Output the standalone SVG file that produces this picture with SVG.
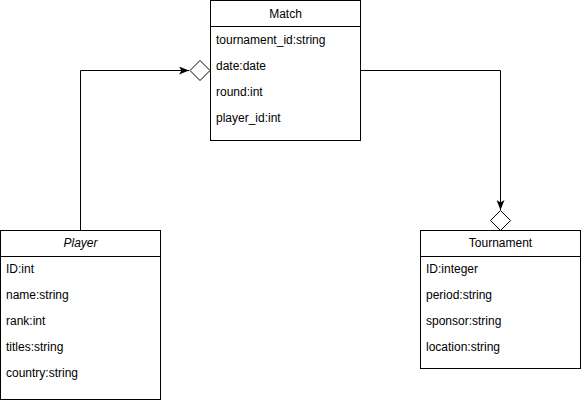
<svg xmlns="http://www.w3.org/2000/svg" width="581" height="401" viewBox="0 0 581 401">
<style>
.box{fill:#fff;stroke:#000;stroke-width:1}
.t{font-family:"Liberation Sans",Arial,sans-serif;font-size:12px;fill:#000}
.h{text-anchor:middle}
.edge{fill:none;stroke:#000;stroke-width:1}
.dia{fill:#fff;stroke:#000;stroke-width:1}
</style>
<defs>
<marker id="arr" viewBox="0 0 10 8" refX="10" refY="4" markerWidth="10" markerHeight="8" markerUnits="userSpaceOnUse" orient="auto">
<path d="M0,0 L10,4 L0,8 L2.5,4 Z" fill="#000"/>
</marker>
</defs>
<g id="connectors">
<path class="edge" d="M80.5,230 L80.5,70.5 L189,70.5" marker-end="url(#arr)"/>
<path class="dia" d="M190,70.5 L200,60.5 L210,70.5 L200,80.5 Z"/>
<path class="edge" d="M360.5,70.5 L500.5,70.5 L500.5,210" marker-end="url(#arr)"/>
<path class="dia" d="M500.5,210.5 L510.5,220.5 L500.5,230.5 L490.5,220.5 Z"/>
</g>
<g id="match">
<rect class="box" x="210.5" y="0.5" width="150" height="140"/>
<line class="edge" x1="210.5" y1="26.5" x2="360.5" y2="26.5"/>
<text class="t h" x="285.5" y="18">Match</text>
<text class="t" x="216" y="44">tournament_id:string</text>
<text class="t" x="216" y="70">date:date</text>
<text class="t" x="216" y="96">round:int</text>
<text class="t" x="216" y="122">player_id:int</text>
</g>
<g id="player">
<rect class="box" x="0.5" y="230.5" width="160" height="169"/>
<line class="edge" x1="0.5" y1="256.5" x2="160.5" y2="256.5"/>
<text class="t h" x="80.5" y="247" font-style="italic">Player</text>
<text class="t" x="6" y="273">ID:int</text>
<text class="t" x="6" y="299">name:string</text>
<text class="t" x="6" y="325">rank:int</text>
<text class="t" x="6" y="351">titles:string</text>
<text class="t" x="6" y="377">country:string</text>
</g>
<g id="tournament">
<rect class="box" x="420.5" y="230.5" width="160" height="138"/>
<line class="edge" x1="420.5" y1="256.5" x2="580.5" y2="256.5"/>
<text class="t h" x="500.5" y="247">Tournament</text>
<text class="t" x="426" y="273">ID:integer</text>
<text class="t" x="426" y="299">period:string</text>
<text class="t" x="426" y="325">sponsor:string</text>
<text class="t" x="426" y="351">location:string</text>
</g>
</svg>
